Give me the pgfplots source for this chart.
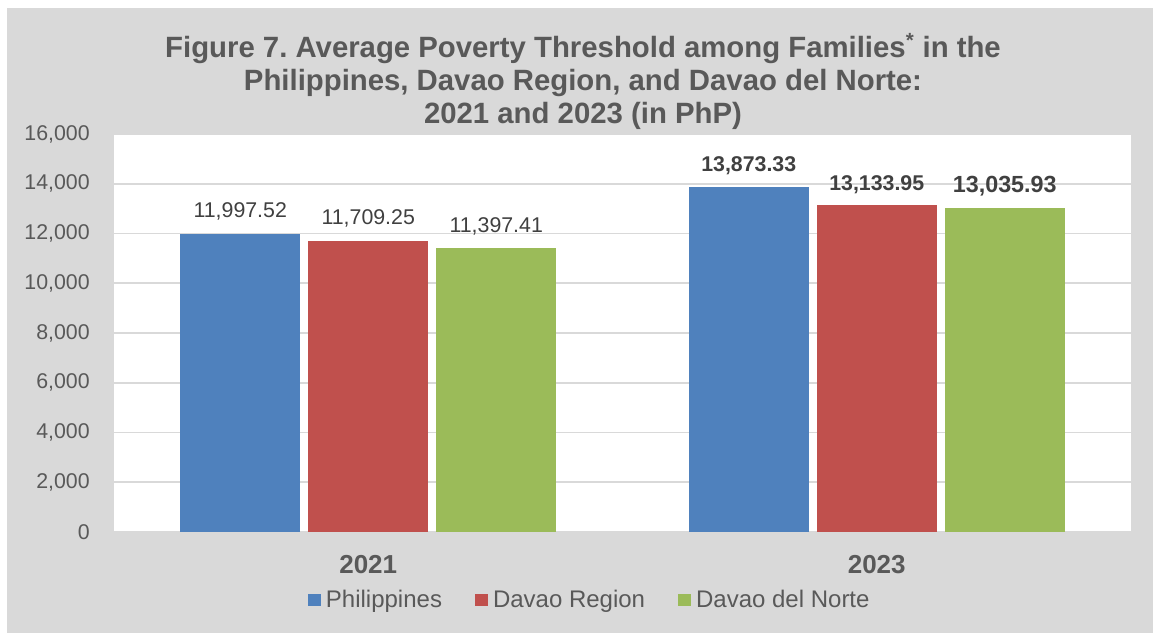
\documentclass[border=0pt]{standalone}
\usepackage{pgfplots}
\pgfplotsset{compat=1.18}
\usepackage{fontspec}
\setmainfont{Liberation Sans}
\frenchspacing
\definecolor{panel}{HTML}{D9D9D9}
\definecolor{txt}{HTML}{595959}
\definecolor{lbl}{HTML}{404040}
\definecolor{cPH}{HTML}{4F81BD}
\definecolor{cDR}{HTML}{C0504D}
\definecolor{cDN}{HTML}{9BBB59}
\pgfplotsset{
  sqleg/.style={legend image code/.code={\fill[##1] (0pt,-4.75pt) rectangle (9.5pt,4.75pt);}},
  lab/.style={nodes near coords={\pgfmathprintnumber[fixed,fixed zerofill,precision=2,1000 sep={,}]{\pgfplotspointmeta}},
    every node near coord/.append style={anchor=base, inner sep=0pt, text=lbl, #1}},
  lab21/.style={lab={font=\fontsize{16}{16}\selectfont, yshift=12pt, xshift=#1}},
  lab23/.style={lab={font=\fontsize{16}{16}\selectfont\bfseries, yshift=11.25pt, xshift=#1}},
}
\begin{document}
\begin{tikzpicture}
\fill[white] (-85.5pt,-75.75pt) rectangle (779.25pt,399pt);
\fill[panel] (-80.25pt,-75.75pt) rectangle (779.25pt,393pt);
\begin{axis}[
  at={(0pt,0pt)}, anchor=south west,
  scale only axis, width=762.75pt, height=298.5pt,
  xmin=-0.5, xmax=1.5, ymin=0, ymax=16000,
  axis background/.style={fill=white},
  axis line style={draw=none},
  major tick style={draw=none},
  ytick={0,2000,...,16000},
  scaled y ticks=false,
  ymajorgrids, major grid style={draw=panel, line width=1.2pt},
  /pgf/number format/assume math mode=true,
  y tick label style={/pgf/number format/1000 sep={,}, font=\fontsize{16}{16}\selectfont, text=txt, anchor=east, inner sep=0pt, xshift=-18pt},
  xtick={0,1}, xticklabels={2021,2023},
  x tick label style={font=\fontsize{19.5}{20}\selectfont\bfseries, text=txt, anchor=base, yshift=-31pt},
  legend columns=3,
  legend style={at={(0.467,-0.1709)}, anchor=center, draw=none, fill=none,
    font=\fontsize{18}{18}\selectfont, text=txt, nodes={inner sep=0pt},
    /tikz/every odd column/.append style={column sep=3.75pt},
    /tikz/every even column/.append style={column sep=25pt}},
]
\addplot[ybar, sqleg, bar width=0.236, bar shift=-0.2517, fill=cPH, draw=none, lab21=-96pt] coordinates {(0,11997.52)};
\addlegendentry{Philippines}
\addplot[ybar, sqleg, bar width=0.236, bar shift=0, fill=cDR, draw=none, lab21=0pt] coordinates {(0,11709.25)};
\addlegendentry{Davao Region}
\addplot[ybar, sqleg, bar width=0.236, bar shift=0.2517, fill=cDN, draw=none, lab21=96pt] coordinates {(0,11397.41)};
\addlegendentry{Davao del Norte}
\addplot[ybar, forget plot, bar width=0.236, bar shift=-0.2517, fill=cPH, draw=none, lab23=-96pt] coordinates {(1,13873.33)};
\addplot[ybar, forget plot, bar width=0.236, bar shift=0, fill=cDR, draw=none, lab23=0pt] coordinates {(1,13133.95)};
\addplot[ybar, forget plot, bar width=0.236, bar shift=0.2517, fill=cDN, draw=none, lab={font=\fontsize{17.5}{17.5}\selectfont\bfseries, yshift=11.25pt, xshift=96pt}] coordinates {(1,13035.93)};
\end{axis}
\node[font=\fontsize{22}{24.75}\selectfont\bfseries, text=txt, align=center] at (351.75pt,338pt)
  {Figure 7. Average Poverty Threshold among Families\textsuperscript{*} in the\\
   Philippines, Davao Region, and Davao del Norte:\\
   2021 and 2023 (in PhP)};
\pgfresetboundingbox
\path[use as bounding box] (-85.5pt,-75.75pt) rectangle (779.25pt,399pt);
\end{tikzpicture}
\end{document}
